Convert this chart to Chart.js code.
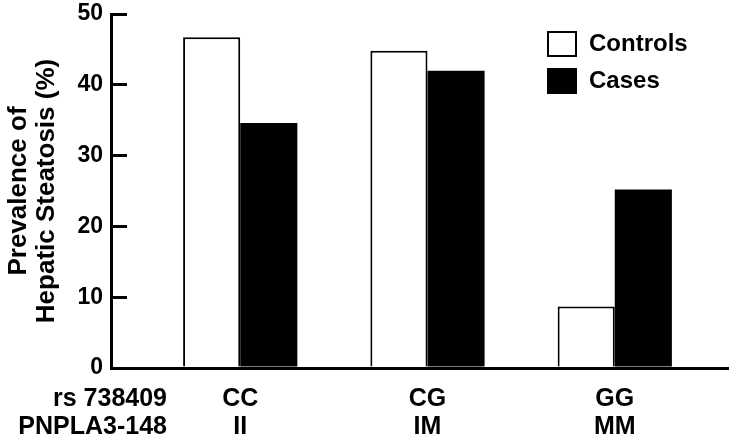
<!DOCTYPE html>
<html>
<head>
<meta charset="utf-8">
<script src="https://cdn.jsdelivr.net/npm/chart.js@4.4.1/dist/chart.umd.min.js"></script>
<style>
  html, body { margin: 0; padding: 0; background: #fff; }
  #wrap { width: 729px; height: 443px; }
</style>
</head>
<body>
<div id="wrap"><canvas id="chart"></canvas></div>
<script>
const genotypes = ['CC', 'CG', 'GG'];
const aminoAcids = ['II', 'IM', 'MM'];
const rowNames = ['rs 738409', 'PNPLA3-148'];
const controls = [46.7, 44.8, 8.7];
const cases = [34.6, 42.0, 25.2];
const yTicks = [0, 10, 20, 30, 40, 50];

const family = '"Liberation Sans", Arial, Helvetica, sans-serif';
const tickFont = { family, size: 23, weight: 'bold' };
const labelFont = { family, size: 25, weight: 'bold', lineHeight: 1.12 };
const titleFont = { family, size: 26, weight: 'bold', lineHeight: 1.08 };
const xPad = 17;

// row names for the two label lines, right aligned left of the first group
const rowLabels = {
    id: 'rowLabels',
    afterDraw(chart) {
        const ctx = chart.ctx;
        const xs = chart.scales.x;
        const lh = labelFont.size * labelFont.lineHeight;
        ctx.save();
        ctx.font = `bold ${labelFont.size}px ${family}`;
        ctx.fillStyle = '#000';
        ctx.textAlign = 'right';
        ctx.textBaseline = 'middle';
        rowNames.forEach((t, i) => ctx.fillText(t, 167, xs.top + xPad + lh / 2 + i * lh));
        ctx.restore();
    }
};

// stacked legend in the top right corner
const boxLegend = {
    id: 'boxLegend',
    afterDraw(chart) {
        const ctx = chart.ctx;
        ctx.save();
        chart.data.datasets.forEach((ds, i) => {
            const y = 31 + i * 37;
            ctx.fillStyle = ds.backgroundColor;
            ctx.fillRect(547, y, 30, 26);
            ctx.strokeStyle = '#000';
            ctx.lineWidth = 2;
            ctx.strokeRect(548, y + 1, 28, 24);
            ctx.fillStyle = '#000';
            ctx.font = `bold 24px ${family}`;
            ctx.textAlign = 'left';
            ctx.textBaseline = 'middle';
            ctx.fillText(ds.label, 589, y + 13);
        });
        ctx.restore();
    }
};

new Chart(document.getElementById('chart'), {
    type: 'bar',
    data: {
        datasets: [{
            label: 'Controls',
            data: controls.map((v, i) => ({ x: i + 1, y: v })),
            backgroundColor: '#ffffff',
            borderColor: '#000000',
            borderWidth: 2,
            borderSkipped: 'bottom'
        }, {
            label: 'Cases',
            data: cases.map((v, i) => ({ x: i + 1, y: v })),
            backgroundColor: '#000000',
            borderColor: '#000000',
            borderWidth: 0
        }]
    },
    options: {
        responsive: true,
        maintainAspectRatio: false,
        animation: false,
        categoryPercentage: 0.61,
        barPercentage: 1,
        layout: { padding: { top: 14, right: 0, bottom: 0, left: 0 } },
        plugins: {
            legend: { display: false },
            tooltip: { enabled: false }
        },
        scales: {
            x: {
                type: 'linear',
                min: 0.31,
                max: 3.61,
                offset: false,
                afterBuildTicks: s => { s.ticks = genotypes.map((g, i) => ({ value: i + 1 })); },
                afterFit: s => { s.height = 75; s.paddingLeft = 0; s.paddingRight = 0; },
                ticks: {
                    callback: v => [genotypes[v - 1], aminoAcids[v - 1]],
                    font: labelFont,
                    color: '#000',
                    padding: xPad,
                    maxRotation: 0,
                    autoSkip: false
                },
                grid: { display: false, drawTicks: false },
                border: { color: '#000', width: 3 }
            },
            y: {
                min: 0,
                max: 50,
                afterBuildTicks: s => { s.ticks = yTicks.map(v => ({ value: v })); },
                afterFit: s => { s.width = 111; s.paddingTop = 0; s.paddingBottom = 0; },
                ticks: { font: tickFont, color: '#000', padding: 24 },
                grid: { drawOnChartArea: false, drawTicks: true, tickLength: -16, color: '#000', lineWidth: 3 },
                border: { color: '#000', width: 3 },
                title: {
                    display: true,
                    text: ['Prevalence of', 'Hepatic Steatosis (%)'],
                    font: titleFont,
                    color: '#000',
                    padding: { top: 5, bottom: 0 }
                }
            }
        }
    },
    plugins: [rowLabels, boxLegend]
});
</script>
</body>
</html>
